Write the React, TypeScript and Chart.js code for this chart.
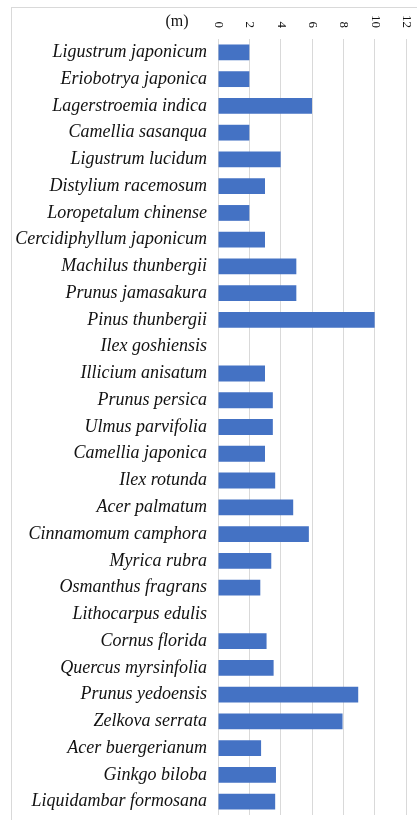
import React, { useEffect, useRef } from 'react';
import { Chart, registerables } from 'chart.js';

Chart.register(...registerables);

const species = [
  'Ligustrum japonicum',
  'Eriobotrya japonica',
  'Lagerstroemia indica',
  'Camellia sasanqua',
  'Ligustrum lucidum',
  'Distylium racemosum',
  'Loropetalum chinense',
  'Cercidiphyllum japonicum',
  'Machilus thunbergii',
  'Prunus jamasakura',
  'Pinus thunbergii',
  'Ilex goshiensis',
  'Illicium anisatum',
  'Prunus persica',
  'Ulmus parvifolia',
  'Camellia japonica',
  'Ilex rotunda',
  'Acer palmatum',
  'Cinnamomum camphora',
  'Myrica rubra',
  'Osmanthus fragrans',
  'Lithocarpus edulis',
  'Cornus florida',
  'Quercus myrsinfolia',
  'Prunus yedoensis',
  'Zelkova serrata',
  'Acer buergerianum',
  'Ginkgo biloba',
  'Liquidambar formosana',
];

const heights = [
  2.0, 2.0, 6.0, 2.0, 4.0, 3.0, 2.0, 3.0, 5.0, 5.0,
  10.0, 0, 3.0, 3.5, 3.5, 3.0, 3.65, 4.8, 5.8, 3.4,
  2.7, 0, 3.1, 3.55, 8.95, 7.95, 2.75, 3.7, 3.65,
];

const xTicks = [0, 2, 4, 6, 8, 10, 12];
const unitLabel = '(m)';

export default function App() {
  const ref = useRef<HTMLCanvasElement>(null);

  useEffect(() => {
    if (!ref.current) return;
    const topTicks = {
      id: 'topTicks',
      afterDraw(chart: any) {
        const ctx = chart.ctx;
        const xs = chart.scales.x;
        const top = chart.chartArea.top;
        ctx.save();
        ctx.fillStyle = '#111';
        ctx.font = '13px "Liberation Serif"';
        ctx.textAlign = 'right';
        ctx.textBaseline = 'middle';
        xTicks.forEach((v) => {
          const px = xs.getPixelForValue(v);
          ctx.save();
          ctx.translate(px + 0.5, top - 11);
          ctx.rotate(Math.PI / 2);
          ctx.fillText(String(v), 0, 0);
          ctx.restore();
        });
        ctx.font = '16px "Liberation Serif"';
        ctx.textAlign = 'center';
        ctx.fillText(unitLabel, xs.left - 41, top - 17);
        ctx.restore();
      },
    };

    const chart = new Chart(ref.current, {
      type: 'bar',
      data: {
        labels: species,
        datasets: [
          {
            data: heights,
            backgroundColor: '#4472C4',
            borderWidth: 0,
            barPercentage: 0.59,
            categoryPercentage: 1,
          },
        ],
      },
      options: {
        indexAxis: 'y',
        animation: false,
        responsive: false,
        maintainAspectRatio: false,
        layout: { padding: { top: 0, right: 11, bottom: 5, left: 0 } },
        plugins: {
          legend: { display: false },
          tooltip: { enabled: false },
        },
        scales: {
          x: {
            position: 'top',
            min: 0,
            max: 12,
            ticks: { display: false, stepSize: 2 },
            grid: { color: '#d9d9d9', drawTicks: false, lineWidth: 1 },
            border: { display: false },
            afterFit(scale: any) {
              scale.height = 39;
              scale.paddingLeft = 0;
              scale.paddingRight = 0;
            },
          },
          y: {
            grid: { display: false, drawTicks: false },
            border: { display: false },
            ticks: {
              color: '#111',
              padding: 11,
              autoSkip: false,
              font: { family: '"Liberation Serif"', style: 'italic', size: 18 },
            },
            afterFit(scale: any) {
              scale.width = 218;
              scale.paddingTop = 0;
              scale.paddingBottom = 0;
            },
          },
        },
      },
      plugins: [topTicks],
    });
    return () => chart.destroy();
  }, []);

  return (
    <div style={{ position: 'fixed', left: 0, top: 0, width: 417, height: 820, background: '#fff' }}>
      <div
        style={{
          position: 'absolute',
          left: 11,
          top: 7,
          width: 500,
          height: 900,
          borderLeft: '1px solid #d9d9d9',
          borderTop: '1px solid #d9d9d9',
        }}
      />
      <canvas
        ref={ref}
        width={417}
        height={820}
        style={{ position: 'absolute', left: 0, top: 0, width: 417, height: 820 }}
      />
    </div>
  );
}
